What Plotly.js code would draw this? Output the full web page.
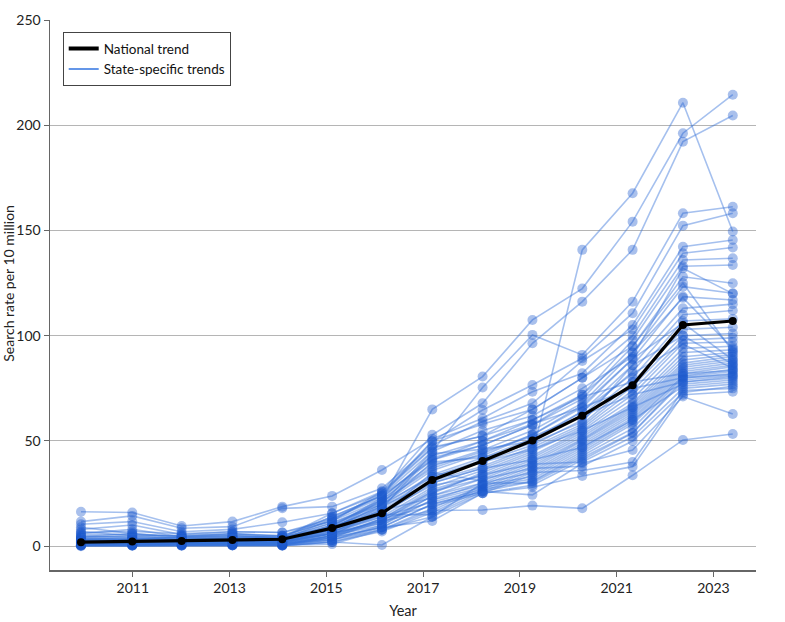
<!DOCTYPE html>
<html>
<head>
<meta charset="utf-8">
<script src="https://cdn.plot.ly/plotly-3.0.1.min.js"></script>
<style>html,body{margin:0;padding:0;background:#fff;}#chart{width:785px;height:622px;}</style>
</head>
<body>
<div id="chart"></div>
<script>
const years = [2009.93, 2010.99, 2012.01, 2013.06, 2014.09, 2015.12, 2016.15, 2017.19, 2018.23, 2019.26, 2020.29, 2021.33, 2022.37, 2023.40];

// National trend
const national = [1.9, 2.2, 2.5, 3.0, 3.3, 8.6, 15.7, 31.5, 40.5, 50.2, 62.0, 76.5, 105.1, 107.0];

// State-specific trends (one row per state)
const states = [
  [2.0, 1.5, 2.0, 3.0, 2.5, 10, 22, 65, 80.6, 107.5, 122.4, 154.2, 196.2, 214.5],
  [1.0, 2.0, 1.5, 2.0, 3.0, 8, 20, 45, 75.4, 100.4, 90.9, 116.2, 158.2, 161.3],
  [3.0, 2.5, 3.0, 4.0, 5.0, 12, 26, 52.9, 67.9, 96.4, 116.2, 140.8, 192.2, 204.6],
  [0.5, 1.0, 1.0, 1.5, 2.0, 6, 12, 25, 35, 44, 140.8, 167.7, 210.7, 149.5],
  [4.0, 3.0, 4.5, 5.0, 4.0, 14, 24, 49.7, 64.7, 76.6, 89.3, 110.7, 152.3, 158.2],
  [16.4, 16.0, 9.6, 11.7, 18.8, 23.9, 36.2, 51, 60.8, 73.4, 82.2, 105.1, 142.3, 145.5],
  [11.7, 14.4, 8.5, 9.3, 18.0, 18.8, 27.5, 48, 59.2, 67.9, 88, 103, 139.2, 141.9],
  [10.4, 11.7, 6.9, 8.0, 11.4, 15.7, 25, 46.6, 52.4, 65, 80, 100, 136, 136.8],
  [8.0, 10.1, 5.5, 6.9, 6.5, 13, 23, 43, 50, 60, 72, 98, 133, 133.6],
  [6.0, 8.0, 4.5, 6.0, 5.0, 12, 22, 41, 48, 57.6, 70, 95, 128, 124.9],
  [4.5, 6.0, 4.0, 5.0, 4.0, 11, 21, 38, 45.7, 55, 68, 92, 123.3, 120.2],
  [4.0, 5.0, 3.5, 4.0, 3.5, 10, 20, 36, 44, 53, 66, 89, 118.6, 117],
  [3.5, 4.0, 3.0, 3.5, 3.0, 9, 19, 34, 42, 51, 64, 86, 113, 115],
  [3.0, 3.0, 2.5, 3.0, 3.0, 9, 18, 33, 41, 50, 62, 83, 110, 112],
  [2.5, 2.5, 2.5, 2.5, 2.5, 8, 17, 32, 40, 48, 60, 80, 107, 108],
  [2.5, 2.0, 2.0, 2.5, 2.0, 8, 16, 31, 38, 47, 58, 78, 103, 104],
  [2.0, 2.0, 2.0, 2.0, 2.0, 7, 15, 30, 37, 46, 57, 76, 100, 101],
  [1.5, 1.0, 1.5, 2.0, 1.5, 6, 14, 28, 36, 45, 56, 74, 98, 99],
  [1.0, 1.5, 1.0, 1.5, 1.0, 5, 13, 27, 34, 43, 55, 72, 96.4, 97],
  [2.0, 1.0, 2.0, 1.0, 2.0, 7, 16, 29, 33, 42, 54, 70, 94, 95],
  [0.5, 0.5, 1.0, 1.0, 1.0, 4, 12, 26, 32, 41, 53, 68, 92, 93.3],
  [1.5, 2.0, 1.5, 1.5, 1.5, 6, 15, 35, 31, 40, 52, 67, 90, 92],
  [0.8, 1.0, 0.5, 1.0, 0.5, 5, 11, 24, 30, 39, 51, 66, 88.5, 91],
  [3.0, 2.0, 3.0, 2.0, 2.5, 9, 17, 23, 29, 38, 50.5, 65, 87, 90.1],
  [1.0, 0.5, 1.0, 0.5, 1.0, 3, 10, 22, 28, 37, 50, 64, 86, 89],
  [2.0, 3.0, 2.0, 2.0, 1.5, 7, 14, 21, 27, 36, 49, 63, 85, 88],
  [0.3, 0.5, 0.5, 0.5, 0.5, 4, 9, 20, 26, 35, 48, 62, 84, 87],
  [1.5, 1.0, 1.5, 1.0, 1.0, 5, 13, 19, 25.2, 34, 47, 61, 83, 86],
  [0.5, 0.8, 0.5, 0.8, 0.5, 3, 8, 18, 29, 33, 46, 60, 82, 85.3],
  [5.0, 4.0, 3.5, 3.5, 3.0, 6, 12, 17, 28, 32, 45, 59, 81, 84],
  [0.2, 0.3, 0.3, 0.5, 0.3, 2, 7, 16, 27, 31, 44, 58, 80.6, 83],
  [2.5, 1.5, 2.5, 2.0, 2.5, 8, 15, 15, 26, 30.7, 43, 56, 80, 82],
  [0.0, 0.2, 0.2, 0.3, 0.2, 2, 0.6, 14, 30, 30, 42, 54, 79, 81],
  [1.0, 1.0, 1.0, 1.5, 1.0, 4, 9, 12, 25.2, 29, 41, 53.7, 78, 80.5],
  [0.5, 0.5, 0.5, 0.5, 0.5, 1, 7.7, 17, 17.2, 19.3, 18.0, 33.7, 50.5, 53.3],
  [1.0, 1.5, 1.0, 1.0, 1.0, 3, 9, 20, 26, 24.4, 39.4, 45.7, 71.1, 62.8],
  [0.5, 0.3, 0.5, 0.5, 0.5, 2, 8, 14, 25.2, 28, 33.4, 37.8, 72, 73.4],
  [2.0, 2.5, 2.0, 3.0, 2.0, 6, 11, 22, 30, 35, 36, 40, 74, 75],
  [1.5, 1.0, 1.5, 1.5, 1.5, 5, 10, 24, 32, 37, 38, 50, 73, 76],
  [0.8, 0.8, 1.0, 1.0, 0.8, 4, 13, 26, 34, 39, 40, 52, 75, 77],
  [7.0, 5.0, 5.0, 6.0, 4.5, 9, 19, 30, 37, 41, 47, 60, 76, 78],
  [9.0, 6.0, 4.5, 5.0, 4.0, 11, 20, 33, 40, 46, 55, 66, 77, 79],
  [3.5, 3.5, 4.0, 4.5, 3.5, 10, 21, 37, 45, 52, 62, 72, 78, 79.8],
  [2.5, 3.0, 3.0, 3.5, 3.0, 13, 24, 41, 50, 58, 66, 75, 80, 81.5],
  [4.5, 4.5, 4.0, 4.0, 4.0, 15.7, 26, 47, 52.4, 60, 71, 78, 82, 83.5],
  [1.0, 1.5, 1.0, 1.0, 1.0, 5, 18, 44, 46, 50, 64, 82, 96, 84.5],
  [1.5, 1.0, 1.5, 1.5, 1.5, 6, 19, 40, 42, 49, 59, 86, 100, 86.5],
  [2.0, 2.0, 2.5, 2.5, 2.0, 8, 22, 39, 43, 53, 67, 89, 106, 88.5],
  [3.0, 3.5, 3.0, 3.0, 2.5, 9, 23, 42, 48, 57.6, 72, 92, 118, 94],
  [6.5, 7.0, 6.0, 6.9, 6.5, 12, 25, 50, 58, 65, 80, 95, 125, 92.5],
  [5.5, 5.5, 5.0, 5.5, 5.0, 14, 24, 45, 55, 62, 75, 90, 132, 120]
];

const xTicks = [2011, 2013, 2015, 2017, 2019, 2021, 2023];
const yTicks = [0, 50, 100, 150, 200, 250];
const legendNames = ["National trend", "State-specific trends"];
const yTitle = "Search rate per 10 million";

const FONT = "Lato, 'Liberation Sans', sans-serif";
const traces = [];

// legend-only entries (lines without markers)
traces.push({x: [null], y: [null], mode: "lines", name: legendNames[0],
  line: {color: "#000", width: 4}, hoverinfo: "skip"});
traces.push({x: [null], y: [null], mode: "lines", name: legendNames[1],
  line: {color: "rgb(100,150,232)", width: 2}, hoverinfo: "skip"});

states.forEach(function (vals) {
  traces.push({
    x: years, y: vals, mode: "lines+markers", showlegend: false,
    line: {color: "rgba(55,115,218,0.45)", width: 1.6},
    marker: {color: "rgba(30,90,205,0.38)", size: 10, line: {width: 0}},
    hoverinfo: "skip"
  });
});

traces.push({
  x: years, y: national, mode: "lines+markers", showlegend: false,
  line: {color: "#000", width: 3.2},
  marker: {color: "#000", size: 8}
});

const layout = {
  width: 785, height: 622,
  margin: {l: 50, r: 29, t: 20, b: 52},
  paper_bgcolor: "#fff", plot_bgcolor: "#fff",
  font: {family: FONT, size: 14, color: "#222"},
  showlegend: true,
  legend: {
    x: 0.018, y: 0.978, xanchor: "left", yanchor: "top",
    bgcolor: "#fff", bordercolor: "#444", borderwidth: 1,
    font: {family: FONT, size: 13.5, color: "#111"},
    tracegroupgap: 0, itemwidth: 30
  },
  xaxis: {
    range: [2009.29, 2023.88],
    tickvals: xTicks, ticktext: xTicks.map(String),
    showgrid: false, zeroline: false,
    showline: true, linecolor: "#666", linewidth: 1.5,
    ticks: "outside", ticklen: 5, tickcolor: "#666", tickwidth: 1,
    tickfont: {family: FONT, size: 14, color: "#222"},
    title: {text: "Year", font: {family: FONT, size: 14.5, color: "#222"}, standoff: 10}
  },
  yaxis: {
    range: [-11.3, 250],
    tickvals: yTicks,
    showgrid: true, gridcolor: "#b5b5b5", gridwidth: 1,
    zeroline: false,
    showline: true, linecolor: "#666", linewidth: 1.5,
    ticks: "outside", ticklen: 5, tickcolor: "#666", tickwidth: 1,
    tickfont: {family: FONT, size: 14, color: "#222"}
  },
  annotations: [{
    text: yTitle, textangle: -90, showarrow: false,
    xref: "paper", yref: "y", x: -0.06, y: 125,
    xanchor: "center", yanchor: "middle",
    font: {family: FONT, size: 14, color: "#222"}
  }]
};

Plotly.newPlot("chart", traces, layout, {displayModeBar: false, staticPlot: true});
</script>
</body>
</html>
